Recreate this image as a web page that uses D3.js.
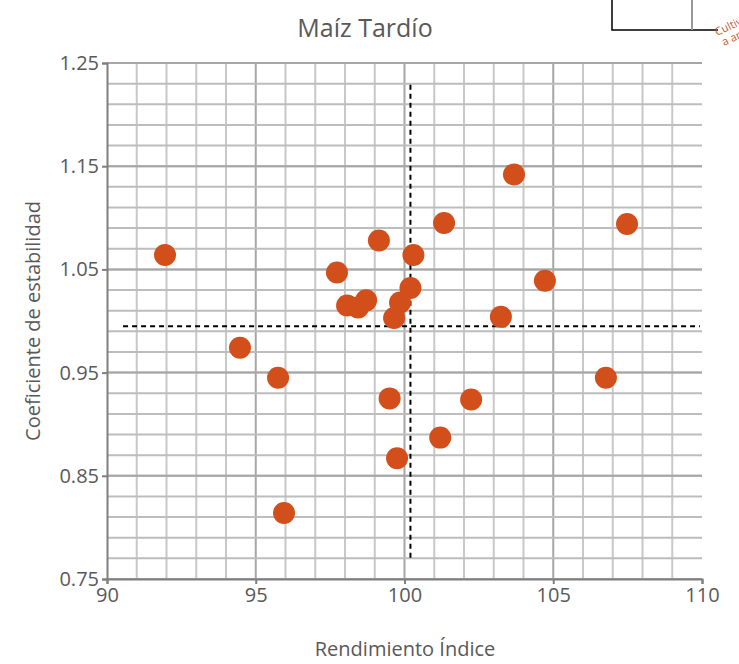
<!DOCTYPE html>
<html><head><meta charset="utf-8">
<script src="https://cdn.jsdelivr.net/npm/d3@7"></script>
<style>body{margin:0;background:#fff}text{font-family:"Open Sans",sans-serif}</style>
</head><body><svg id="c" width="739" height="664"></svg>
<script>
const rendimiento = [91.95,94.47,95.75,95.95,97.73,98.07,98.44,98.71,99.14,99.5,99.65,99.85,99.75,100.2,100.3,101.2,101.33,102.24,103.24,103.68,104.72,106.77,107.48];
const estabilidad = [1.064,0.974,0.945,0.814,1.047,1.015,1.013,1.020,1.078,0.925,1.003,1.018,0.867,1.032,1.064,0.887,1.095,0.924,1.004,1.142,1.039,0.945,1.094];
const xTicks = [90,95,100,105,110];
const yTicks = [0.75,0.85,0.95,1.05,1.15,1.25];
const meanX = 100.2, meanY = 0.995;

const svg = d3.select("#c");
const M = {left:107, right:702, top:63, bottom:579};
const x = d3.scaleLinear().domain([90,110]).range([M.left,M.right]);
const y = d3.scaleLinear().domain([0.75,1.25]).range([M.bottom,M.top]);
const grey = "#595959";

// grid
svg.append("g").selectAll("line").data(d3.range(91,110)).join("line")
  .attr("x1",d=>x(d)).attr("x2",d=>x(d)).attr("y1",M.top).attr("y2",M.bottom)
  .attr("stroke",d=>d%5===0?"#a6a6a6":"#c8c8c8").attr("stroke-width",2);
svg.append("g").selectAll("line").data(d3.range(0,26).map(i=>0.75+i*0.02)).join("line")
  .attr("x1",M.left).attr("x2",M.right).attr("y1",d=>y(d)).attr("y2",d=>y(d))
  .attr("stroke","#bdbdbd").attr("stroke-width",2);
svg.append("g").selectAll("line").data(yTicks).join("line")
  .attr("x1",M.left).attr("x2",M.right).attr("y1",d=>y(d)).attr("y2",d=>y(d))
  .attr("stroke","#a6a6a6").attr("stroke-width",2);

// axes
const xa = svg.append("g").attr("transform",`translate(0,${M.bottom})`)
  .call(d3.axisBottom(x).tickValues(xTicks).tickSize(5).tickPadding(4));
const ya = svg.append("g").attr("transform",`translate(${M.left},0)`)
  .call(d3.axisLeft(y).tickValues(yTicks).tickFormat(d3.format(".2f")).tickSize(5).tickPadding(3));
[xa,ya].forEach(a=>{
  a.selectAll("path,line").attr("stroke","#7f7f7f").attr("stroke-width",2);
  a.selectAll("text").attr("fill",grey).style("font-size","20px");
});

// dashed mean lines
svg.append("line").attr("x1",x(meanX)).attr("x2",x(meanX)).attr("y1",y(1.229)).attr("y2",y(0.768))
  .attr("stroke","#000").attr("stroke-width",2).attr("stroke-dasharray","5,4");
svg.append("line").attr("x1",x(90.54)).attr("x2",x(109.93)).attr("y1",y(meanY)).attr("y2",y(meanY))
  .attr("stroke","#000").attr("stroke-width",2).attr("stroke-dasharray","5,4");

// points
svg.append("g").selectAll("circle").data(rendimiento).join("circle")
  .attr("cx",d=>x(d)).attr("cy",(d,i)=>y(estabilidad[i])).attr("r",11)
  .attr("fill","#d24e1a");

// titles
svg.append("text").attr("x",365).attr("y",37).attr("text-anchor","middle")
  .attr("fill",grey).style("font-size","25px").text("Maíz Tardío");
svg.append("text").attr("x",405).attr("y",656).attr("text-anchor","middle")
  .attr("fill",grey).style("font-size","20px").text("Rendimiento Índice");
svg.append("text").attr("transform","translate(40,321) rotate(-90)").attr("text-anchor","middle")
  .attr("fill",grey).style("font-size","20px").text("Coeficiente de estabilidad");

// corner fragment
svg.append("path").attr("d","M612,0V30H718").attr("fill","none").attr("stroke","#000").attr("stroke-width",1.5);
svg.append("line").attr("x1",692).attr("x2",692).attr("y1",0).attr("y2",30).attr("stroke","#999").attr("stroke-width",2);
svg.append("text").attr("transform","translate(717,36) rotate(-25)").attr("fill","#c55a2a").style("font-size","11px").text("Cultivo");
svg.append("text").attr("transform","translate(724,46) rotate(-25)").attr("fill","#c55a2a").style("font-size","11px").text("a ambos");
</script></body></html>
